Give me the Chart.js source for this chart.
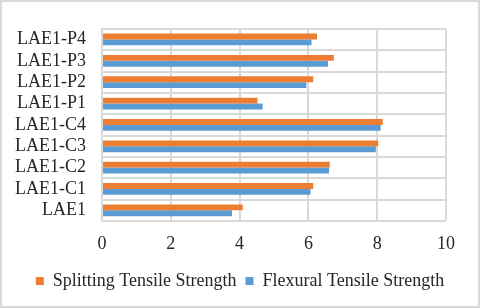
<!DOCTYPE html>
<html>
<head>
<meta charset="utf-8">
<script src="https://cdn.jsdelivr.net/npm/chart.js@4"></script>
<style>
  html, body { margin: 0; padding: 0; background: #fff; }
  #wrap { width: 480px; height: 308px; box-sizing: border-box; border: 2px solid #d9d9d9; position: relative; }
</style>
</head>
<body>
<div id="wrap"><canvas id="chart"></canvas></div>
<script>
const categories = ["LAE1-P4", "LAE1-P3", "LAE1-P2", "LAE1-P1", "LAE1-C4", "LAE1-C3", "LAE1-C2", "LAE1-C1", "LAE1"];
const splitting = [6.25, 6.74, 6.14, 4.52, 8.16, 8.03, 6.62, 6.14, 4.09];
const flexural = [6.09, 6.57, 5.94, 4.67, 8.10, 7.96, 6.60, 6.06, 3.78];
const xTicks = [0, 2, 4, 6, 8, 10];

const font = { family: "'Liberation Serif', 'Times New Roman', serif", size: 18 };
const textColor = "#262626";
const gridColor = "#d9d9d9";

new Chart(document.getElementById("chart"), {
  type: "bar",
  data: {
    labels: categories,
    datasets: [
      { label: "Splitting Tensile Strength", data: splitting, backgroundColor: "#ed7d31" },
      { label: "Flexural Tensile Strength", data: flexural, backgroundColor: "#5b9bd5" },
    ],
  },
  options: {
    indexAxis: "y",
    responsive: true,
    maintainAspectRatio: false,
    animation: false,
    categoryPercentage: 0.55,
    barPercentage: 1,
    layout: { padding: { left: 0, right: 0, top: 22, bottom: 6 } },
    plugins: {
      tooltip: { enabled: false },
      legend: {
        position: "bottom",
        labels: { font, color: textColor, boxWidth: 8, boxHeight: 8, padding: 9 },
      },
    },
    scales: {
      x: {
        min: 0,
        max: 10,
        afterBuildTicks: (scale) => { scale.ticks = xTicks.map((v) => ({ value: v })); },
        // right gap lives on the axis, so the legend still spans the full width
        afterFit: (scale) => { scale.height = 42; scale.paddingRight = 32; },
        ticks: { font, color: textColor, padding: 12 },
        grid: { color: gridColor, lineWidth: 2, drawTicks: false },
        border: { display: false },
      },
      y: {
        afterFit: (scale) => { scale.width = 100; },
        ticks: { font, color: textColor, padding: 16, autoSkip: false },
        grid: { color: gridColor, lineWidth: 2, drawTicks: false },
        border: { color: gridColor, width: 2 },
      },
    },
  },
});
</script>
</body>
</html>
